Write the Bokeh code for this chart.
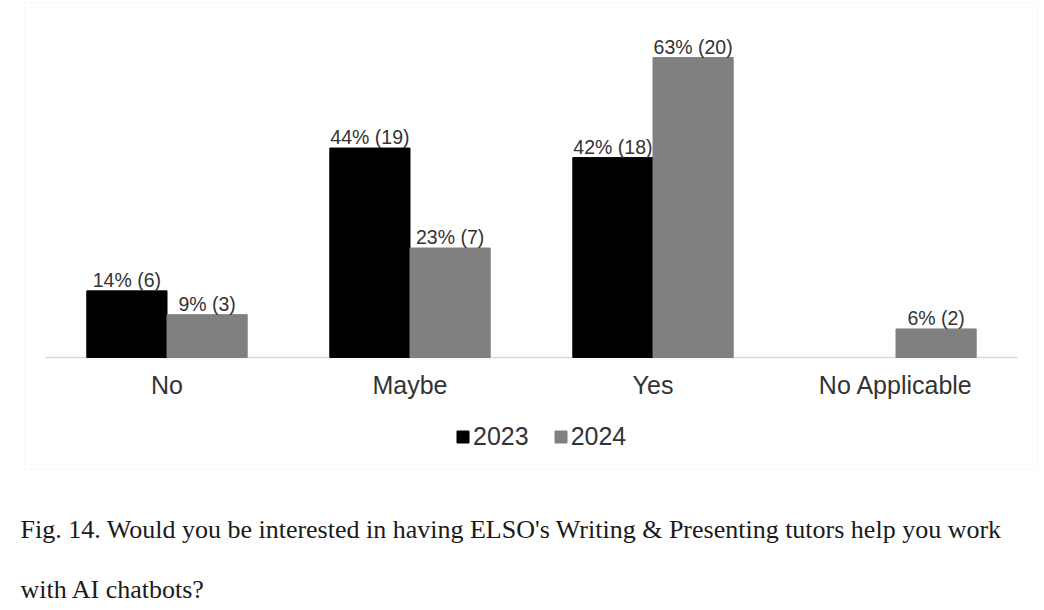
from bokeh.plotting import figure
from bokeh.models import (FactorRange, Range1d, ColumnDataSource, Label, Legend,
                          LegendItem, BoxAnnotation)
from bokeh.transform import dodge
from bokeh.embed import file_html
from bokeh.resources import INLINE
from bokeh.core.properties import value

# ---- data ----
categories = ["No", "Maybe", "Yes", "No Applicable"]
years = ["2023", "2024"]
pct_2023 = [14, 44, 42, None]
pct_2024 = [9, 23, 63, 6]
cnt_2023 = [6, 19, 18, None]
cnt_2024 = [3, 7, 20, 2]
caption_lines = [
    "Fig. 14. Would you be interested in having ELSO's Writing & Presenting tutors help you work",
    "with AI chatbots?",
]


def make_source(pcts, cnts):
    cats, tops, labels = [], [], []
    for c, v, n in zip(categories, pcts, cnts):
        if v is None:
            continue
        cats.append(c)
        tops.append(v)
        labels.append(f"{v}% ({n})")
    return ColumnDataSource(dict(cat=cats, top=tops, label=labels))


src23 = make_source(pct_2023, cnt_2023)
src24 = make_source(pct_2024, cnt_2024)

# ---- layout constants (pixels) ----
W, H = 1042, 606
FRAME_LEFT = 20
BASE_Y = 357          # pixel row of the value axis zero line
PX_PER_UNIT = 4.76    # pixels per percent
CAT_PX = 243          # pixels per category
pad_units = (45 - FRAME_LEFT) / CAT_PX

p = figure(
    x_range=FactorRange(*categories, range_padding=pad_units,
                        range_padding_units="absolute"),
    y_range=Range1d(-(H - BASE_Y) / PX_PER_UNIT, BASE_Y / PX_PER_UNIT),
    width=W, height=H,
    output_backend="svg", toolbar_location=None,
    x_axis_location=None, y_axis_location=None,
    min_border_left=FRAME_LEFT, min_border_right=0,
    min_border_top=0, min_border_bottom=0,
)
p.outline_line_color = None
p.xgrid.grid_line_color = None
p.ygrid.grid_line_color = None
p.background_fill_color = "white"
p.border_fill_color = "white"

# chart box border
box = BoxAnnotation(left=24 - FRAME_LEFT, right=1037 - FRAME_LEFT,
                    top=H - 2, bottom=H - 469,
                    left_units="screen", right_units="screen",
                    top_units="screen", bottom_units="screen",
                    fill_alpha=0, line_color="#e8e8e8", line_width=1,
                    level="underlay")
p.add_layout(box)

colors = {"2023": "#000000", "2024": "#808080"}
off = 0.165
bw = 0.33

# zero line along the category extent
base_src = ColumnDataSource(dict(c0=[categories[0]], c1=[categories[-1]], y=[0]))
p.segment(x0=dodge("c0", -0.5, range=p.x_range), x1=dodge("c1", 0.5, range=p.x_range),
          y0="y", y1="y", source=base_src, line_color="#d9d9d9", line_width=1.5)

r23 = p.vbar(x=dodge("cat", -off, range=p.x_range), top="top", width=bw,
             source=src23, fill_color=colors["2023"], line_color=colors["2023"])
r24 = p.vbar(x=dodge("cat", off, range=p.x_range), top="top", width=bw,
             source=src24, fill_color=colors["2024"], line_color=colors["2024"])

for src, o in ((src23, -off), (src24, off)):
    p.text(x=dodge("cat", o, range=p.x_range), y="top", text="label", source=src,
           text_align="center", text_baseline="bottom",
           text_font=value("Liberation Sans"), text_font_size="19.5px",
           text_color="#333333")

# category labels
cat_src = ColumnDataSource(dict(cat=categories, y=[-27 / PX_PER_UNIT] * len(categories)))
p.text(x="cat", y="y", text="cat", source=cat_src, text_align="center",
       text_baseline="middle", text_font=value("Liberation Sans"),
       text_font_size="25px", text_color="#333333")

legend = Legend(
    items=[LegendItem(label=years[0], renderers=[r23]),
           LegendItem(label=years[1], renderers=[r24])],
    orientation="horizontal", location=(455 - FRAME_LEFT, H - 436 - 15),
    glyph_width=15, glyph_height=15, label_standoff=3, spacing=24,
    padding=0, margin=0, border_line_color=None, background_fill_alpha=0,
    label_height=15,
    label_text_font="Liberation Sans", label_text_font_size="25px",
    label_text_color="#333333",
)
p.add_layout(legend)

for i, line in enumerate(caption_lines):
    p.add_layout(Label(x=20 - FRAME_LEFT, y=H - 529 - 60 * i, x_units="screen",
                       y_units="screen", text=line, text_font="Liberation Serif",
                       text_font_size="26px", text_color="#1a1a1a",
                       text_baseline="alphabetic"))

open("out.html", "w").write(file_html(p, INLINE))
